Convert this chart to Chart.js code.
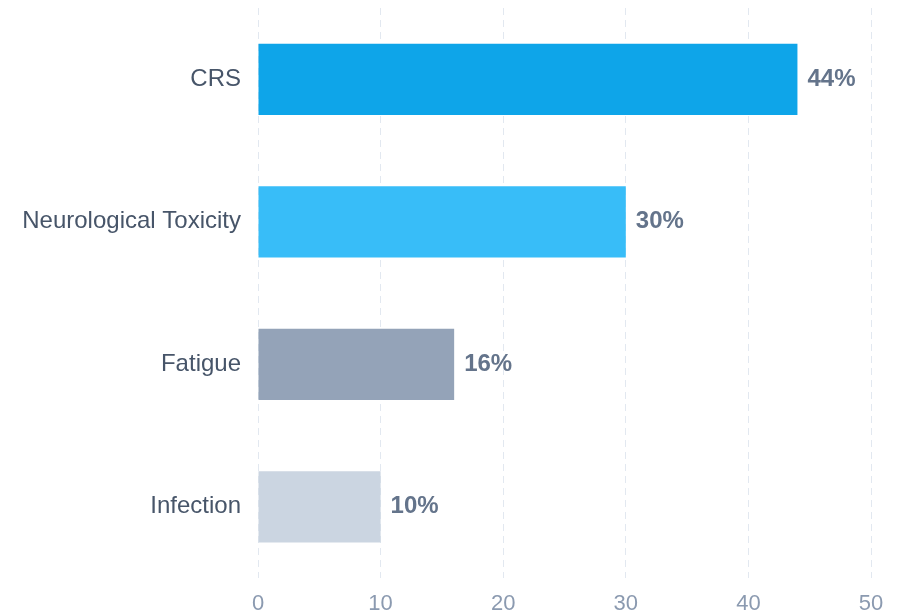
<!DOCTYPE html>
<html>
<head>
<meta charset="utf-8">
<script src="https://cdn.jsdelivr.net/npm/chart.js@4"></script>
<style>
  html, body { margin: 0; padding: 0; background: #fff; }
  #wrap { width: 899px; height: 614px; }
</style>
</head>
<body>
<div id="wrap"><canvas id="graph"></canvas></div>
<script>
// chart values
const categories = ['CRS', 'Neurological Toxicity', 'Fatigue', 'Infection']
const values = [44, 30, 16, 10]
const barColors = ['#0ea5e9', '#38bdf8', '#94a3b8', '#cbd5e1']
const xTicks = [0, 10, 20, 30, 40, 50]

const fontFamily = '"Liberation Sans", Arial, Helvetica, sans-serif'

// draws the "44%" labels at the end of each bar
const barLabels = {
    id: 'barLabels',
    afterDatasetsDraw(chart) {
        const ctx = chart.ctx
        const meta = chart.getDatasetMeta(0)
        ctx.save()
        ctx.font = 'bold 24px ' + fontFamily
        ctx.fillStyle = '#64748b'
        ctx.textAlign = 'left'
        ctx.textBaseline = 'middle'
        meta.data.forEach((bar, i) => {
            ctx.fillText(values[i] + '%', bar.x + 10, bar.y)
        })
        ctx.restore()
    }
}

var ctx = document.getElementById('graph').getContext('2d');
var chart = new Chart(ctx, {
    type: 'bar',
    data: {
        labels: categories,
        datasets: [{
            data: values,
            backgroundColor: barColors,
            borderWidth: 0,
            barPercentage: 0.5,
            categoryPercentage: 1.0
        }]
    },
    options: {
        indexAxis: 'y',
        responsive: true,
        maintainAspectRatio: false,
        animation: false,
        layout: { padding: { top: 8, right: 28, left: 0, bottom: 0 } },
        plugins: {
            legend: { display: false },
            tooltip: { enabled: false }
        },
        scales: {
            x: {
                min: 0,
                max: 50,
                afterBuildTicks: (scale) => { scale.ticks = xTicks.map(v => ({ value: v })) },
                afterFit: (scale) => { scale.height = 36 },
                grid: {
                    color: '#e2e8f0',
                    lineWidth: 1,
                    drawTicks: false
                },
                border: { display: false, dash: [7, 5] },
                ticks: {
                    padding: 13,
                    color: '#8b9ab0',
                    font: { family: fontFamily, size: 22 }
                }
            },
            y: {
                afterFit: (scale) => {
                    scale.width = 258
                    scale.paddingTop = 0
                    scale.paddingBottom = 0
                },
                grid: { display: false, drawTicks: false },
                border: { display: false },
                ticks: {
                    padding: 17,
                    color: '#475569',
                    font: { family: fontFamily, size: 24 }
                }
            }
        }
    },
    plugins: [barLabels]
});
</script>
</body>
</html>
